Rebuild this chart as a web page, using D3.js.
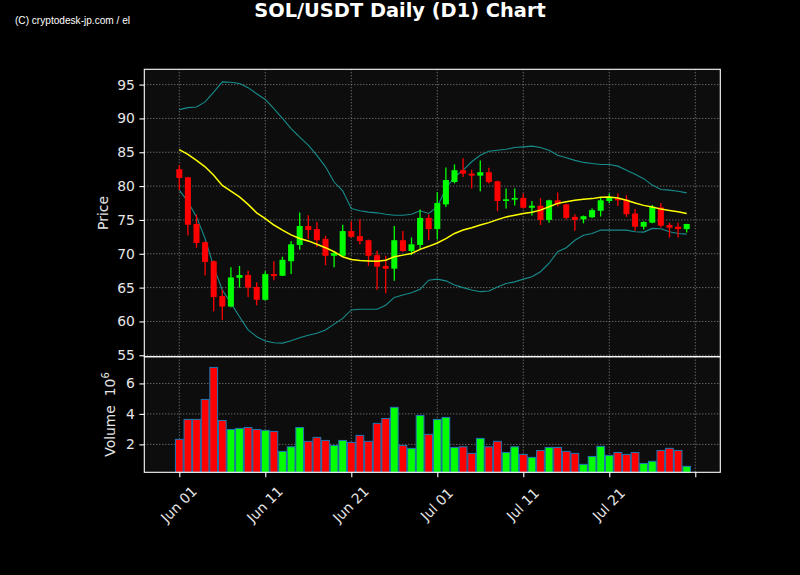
<!DOCTYPE html>
<html>
<head>
<meta charset="utf-8">
<script src="https://cdn.jsdelivr.net/npm/d3@7"></script>
<style>
  body { margin: 0; background: #000; }
  svg { display: block; }
</style>
</head>
<body>
<div id="chart"></div>
<script>
// daily candles, Jun 01 .. Jul 30 (index 0 = Jun 01)
const opens  = [82.5, 81.3, 74.4, 71.7, 68.9, 63.75, 62.2, 66.45, 66.85, 65.1,
                63.2, 67.0, 66.75, 68.9, 71.3, 74.1, 73.65, 72.2, 69.7, 69.7,
                73.35, 72.6, 72.0, 69.8, 68.2, 67.8, 72.0, 70.4, 71.3, 75.3,
                73.65, 77.3, 80.6, 82.35, 81.85, 81.55, 82.05, 80.7, 77.8, 78.0,
                78.25, 76.8, 77.1, 75.0, 77.9, 77.3, 75.45, 75.1, 75.4, 76.35,
                77.8, 78.15, 78.0, 75.95, 74.0, 74.6, 76.85, 74.25, 74.0, 73.65];
const highs  = [83.1, 81.4, 75.8, 71.8, 69.0, 64.7, 68.0, 68.2, 67.5, 65.8,
                67.4, 68.9, 69.55, 71.9, 76.1, 75.7, 74.7, 72.65, 70.3, 74.3,
                74.8, 75.1, 72.1, 70.45, 69.7, 74.1, 73.35, 72.4, 76.55, 75.8,
                79.1, 82.75, 83.2, 84.1, 82.4, 83.8, 82.7, 80.8, 79.65, 79.65,
                78.9, 77.8, 78.2, 78.0, 79.05, 77.4, 75.85, 75.65, 76.7, 78.4,
                78.9, 78.9, 78.65, 76.6, 74.8, 77.2, 77.5, 74.6, 74.6, 74.45];
const lows   = [79.4, 72.7, 70.9, 66.8, 61.5, 60.2, 62.1, 65.0, 63.6, 62.4,
                63.1, 66.1, 66.7, 67.0, 70.6, 72.2, 71.0, 68.3, 68.0, 69.6,
                72.4, 71.4, 68.2, 64.7, 64.15, 66.0, 70.3, 69.8, 70.7, 72.0,
                72.1, 76.9, 80.4, 81.35, 79.65, 79.25, 80.4, 76.3, 76.7, 77.15,
                76.7, 75.65, 74.25, 74.6, 77.0, 75.1, 73.4, 74.5, 75.3, 75.5,
                77.45, 77.05, 75.45, 73.4, 73.6, 74.5, 73.9, 72.4, 72.4, 73.15];
const closes = [81.2, 74.3, 71.6, 68.8, 63.6, 62.2, 66.5, 66.85, 65.0, 63.2,
                67.0, 66.7, 69.1, 71.4, 74.1, 73.5, 72.0, 69.7, 70.1, 73.35,
                72.5, 71.9, 69.7, 68.1, 67.8, 72.0, 70.4, 71.4, 75.3, 73.65,
                77.5, 80.9, 82.35, 81.85, 81.55, 82.05, 80.6, 77.8, 78.05, 78.25,
                76.8, 77.1, 75.0, 77.9, 77.3, 75.3, 75.0, 75.55, 76.45, 77.9,
                78.25, 77.9, 75.85, 74.0, 74.7, 76.95, 74.15, 73.85, 73.65, 74.4];
// volume in millions
const volumes = [2.33, 3.64, 3.64, 4.95, 7.05, 3.57, 2.98, 3.05, 3.11, 2.98,
                 2.92, 2.85, 1.54, 1.84, 3.11, 2.2, 2.46, 2.26, 1.93, 2.26,
                 2.13, 2.59, 2.2, 3.38, 3.7, 4.43, 1.93, 1.74, 3.9, 2.66,
                 3.64, 3.77, 1.8, 1.84, 1.41, 2.39, 1.84, 2.2, 1.47, 1.84,
                 1.34, 1.15, 1.6, 1.8, 1.8, 1.54, 1.41, 0.69, 1.21, 1.87,
                 1.28, 1.47, 1.34, 1.47, 0.75, 0.89, 1.6, 1.74, 1.6, 0.56];
// moving average and bollinger bands as plotted
const sma = [85.4, 84.7, 83.8, 82.85, 81.6, 80.1, 79.25, 78.4, 77.3, 76.05,
             75.2, 74.25, 73.5, 72.8, 72.25, 71.9, 71.4, 70.9, 70.3, 69.55,
             69.15, 69.0, 68.95, 68.9, 69.05, 69.55, 69.8, 70.05, 70.65, 71.1,
             71.6, 72.25, 73.0, 73.5, 73.85, 74.25, 74.6, 75.05, 75.45, 75.7,
             75.95, 76.15, 76.45, 76.95, 77.45, 77.7, 77.9, 78.05, 78.15, 78.35,
             78.4, 78.25, 77.9, 77.5, 77.15, 76.9, 76.6, 76.4, 76.2, 75.95];
const upperBand = [91.3, 91.6, 91.7, 92.45, 93.9, 95.4, 95.35, 95.15, 94.55, 93.65,
                   92.8, 91.45, 90.0, 88.5, 87.25, 86.05, 84.55, 82.85, 80.6, 79.3,
                   76.7, 76.35, 76.15, 76.05, 75.85, 75.7, 75.7, 75.85, 76.35, 75.95,
                   76.95, 79.65, 81.35, 82.35, 83.6, 84.55, 85.15, 85.3, 85.45, 85.7,
                   85.8, 85.9, 85.7, 85.3, 84.55, 84.2, 83.8, 83.5, 83.35, 83.2,
                   83.2, 82.95, 82.35, 81.75, 81.1, 80.15, 79.5, 79.4, 79.25, 79.0];
const lowerBand = [79.4, 77.7, 75.45, 72.25, 68.1, 64.65, 62.7, 60.7, 58.75, 57.75,
                   57.1, 56.85, 56.8, 57.15, 57.6, 57.95, 58.25, 58.75, 59.6, 60.45,
                   61.7, 61.8, 61.8, 61.8, 62.4, 63.55, 63.9, 64.25, 64.75, 66.1,
                   66.25, 66.0, 65.4, 65.0, 64.65, 64.4, 64.5, 65.1, 65.6, 65.85,
                   66.25, 66.6, 67.35, 68.6, 70.3, 70.9, 72.0, 72.75, 73.0, 73.5,
                   73.5, 73.5, 73.5, 73.25, 73.2, 73.75, 73.7, 73.25, 73.0, 72.9];

const xTickIdx = [0, 10, 20, 30, 40, 50, 60];
const xTickLabels = ["Jun 01", "Jun 11", "Jun 21", "Jul 01", "Jul 11", "Jul 21", ""];
const priceTicks = [55, 60, 65, 70, 75, 80, 85, 90, 95];
const volTicks = [2, 4, 6];

const width = 800, height = 575;
const left = 144.3, right = 720.3;
const priceTop = 69.3, priceBottom = 356.7, volBottom = 472.3;
const upColor = "#00ff00", downColor = "#ff0000";
const tickColor = "#e6e6e6";

const svg = d3.select("#chart").append("svg")
    .attr("width", width)
    .attr("height", height)
    .style("font-family", "DejaVu Sans, sans-serif");

svg.append("rect").attr("width", width).attr("height", height).attr("fill", "#000");

const x = d3.scaleLinear().domain([-4.07, 62.91]).range([left, right]);
const yP = d3.scaleLinear().domain([54.79, 97.26]).range([priceBottom, priceTop]);
const vMin = 0.3 * d3.min(volumes), vMax = 1.1 * d3.max(volumes);
const yV = d3.scaleLinear().domain([vMin, vMax]).range([volBottom, priceBottom]);

const data = opens.map((o, i) => ({
    i, o, h: highs[i], l: lows[i], c: closes[i], v: volumes[i]
}));
const colorOf = d => d.c >= d.o ? upColor : downColor;

// panel backgrounds
svg.append("rect").attr("x", left).attr("y", priceTop)
    .attr("width", right - left).attr("height", volBottom - priceTop)
    .attr("fill", "#0d0d0d");

// grids
function grid(y0, y1, yScale, ticks) {
    const g = svg.append("g")
        .attr("stroke", "#8a8a8a")
        .attr("stroke-width", 1)
        .attr("stroke-dasharray", "1,2");
    g.selectAll(".vg").data(xTickIdx).enter().append("line")
        .attr("x1", d => x(d)).attr("x2", d => x(d))
        .attr("y1", y0).attr("y2", y1);
    g.selectAll(".hg").data(ticks).enter().append("line")
        .attr("x1", left).attr("x2", right)
        .attr("y1", d => yScale(d)).attr("y2", d => yScale(d));
}
grid(priceTop, priceBottom, yP, priceTicks);
grid(priceBottom, volBottom, yV, volTicks);

// bollinger bands + sma
const lineFor = arr => d3.line().x((d, i) => x(i)).y(d => yP(d))(arr);
svg.append("path").attr("d", lineFor(upperBand))
    .attr("fill", "none").attr("stroke", "#178c8c").attr("stroke-width", 1.1);
svg.append("path").attr("d", lineFor(lowerBand))
    .attr("fill", "none").attr("stroke", "#178c8c").attr("stroke-width", 1.1);

// candles
const step = x(1) - x(0);
const bodyW = step * 0.7;
const candles = svg.append("g");
candles.selectAll(".wick").data(data).enter().append("line")
    .attr("x1", d => x(d.i)).attr("x2", d => x(d.i))
    .attr("y1", d => yP(d.h)).attr("y2", d => yP(d.l))
    .attr("stroke", colorOf).attr("stroke-width", 1.3);
candles.selectAll(".body").data(data).enter().append("rect")
    .attr("x", d => x(d.i) - bodyW / 2)
    .attr("y", d => yP(Math.max(d.o, d.c)))
    .attr("width", bodyW)
    .attr("height", d => Math.max(1, Math.abs(yP(d.o) - yP(d.c))))
    .attr("fill", colorOf);

svg.append("path").attr("d", lineFor(sma))
    .attr("fill", "none").attr("stroke", "#ffff00").attr("stroke-width", 1.5);

// volume bars
const barW = step * 0.9;
svg.append("g").selectAll("rect").data(data).enter().append("rect")
    .attr("x", d => x(d.i) - barW / 2)
    .attr("y", d => yV(d.v))
    .attr("width", barW)
    .attr("height", d => volBottom - yV(d.v))
    .attr("fill", colorOf)
    .attr("stroke", "#1f77b4")
    .attr("stroke-width", 1);

// spines
const spines = svg.append("g").attr("fill", "none").attr("stroke", "#fff").attr("stroke-width", 1.1);
spines.append("rect").attr("x", left).attr("y", priceTop)
    .attr("width", right - left).attr("height", priceBottom - priceTop);
spines.append("rect").attr("x", left).attr("y", priceBottom)
    .attr("width", right - left).attr("height", volBottom - priceBottom);

// axes
function styleAxis(g) {
    g.select(".domain").remove();
    g.selectAll(".tick line").attr("stroke", "#fff").attr("stroke-width", 1.1);
    g.selectAll(".tick text").attr("fill", tickColor).style("font-size", "13.9px")
        .style("font-family", "DejaVu Sans, sans-serif");
}
svg.append("g")
    .attr("transform", `translate(${left},0)`)
    .call(d3.axisLeft(yP).tickValues(priceTicks).tickSize(4.9).tickPadding(4.5))
    .call(styleAxis);
svg.append("g")
    .attr("transform", `translate(${left},0)`)
    .call(d3.axisLeft(yV).tickValues(volTicks).tickSize(4.9).tickPadding(4.5))
    .call(styleAxis);

const xAxis = svg.append("g")
    .attr("transform", `translate(0,${volBottom})`)
    .call(d3.axisBottom(x).tickValues(xTickIdx).tickSize(4.9)
        .tickFormat((d, i) => xTickLabels[i]))
    .call(styleAxis);
xAxis.selectAll(".tick text")
    .attr("y", 0).attr("dy", 0)
    .attr("text-anchor", "middle")
    .attr("dominant-baseline", "central")
    .attr("transform", "translate(-1,32) rotate(-45)");

// labels
svg.append("text")
    .attr("transform", `translate(108,${(priceTop + priceBottom) / 2}) rotate(-90)`)
    .attr("text-anchor", "middle")
    .attr("fill", tickColor)
    .style("font-size", "13.9px")
    .text("Price");

const vLabel = svg.append("text")
    .attr("transform", `translate(115,${(priceBottom + volBottom) / 2}) rotate(-90)`)
    .attr("text-anchor", "middle")
    .attr("fill", tickColor)
    .style("white-space", "pre")
    .style("font-size", "13.9px");
vLabel.append("tspan").text("Volume\u00a0\u00a010");
vLabel.append("tspan").attr("dy", -6).style("font-size", "10px").text("6");

svg.append("text")
    .attr("x", 400).attr("y", 17)
    .attr("text-anchor", "middle")
    .attr("fill", "#fff")
    .style("font-size", "19.4px")
    .style("font-weight", "bold")
    .text("SOL/USDT Daily (D1) Chart");

svg.append("text")
    .attr("x", 15).attr("y", 24)
    .attr("fill", "#fff")
    .attr("textLength", 115)
    .attr("lengthAdjust", "spacingAndGlyphs")
    .style("font-family", "Liberation Sans Narrow, Liberation Sans, sans-serif")
    .style("font-size", "11px")
    .text("(C) cryptodesk-jp.com / el");
</script>
</body>
</html>
